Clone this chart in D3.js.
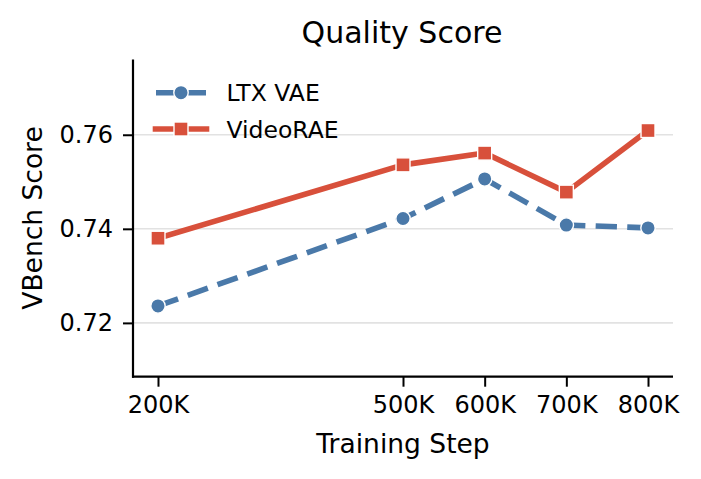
<!DOCTYPE html>
<html>
<head>
<meta charset="utf-8">
<script src="https://cdn.jsdelivr.net/npm/d3@7"></script>
<style>
  html, body { margin: 0; padding: 0; background: #fff; }
  svg { display: block; font-family: "DejaVu Sans", sans-serif; }
</style>
</head>
<body>
<svg id="chart" width="701" height="479"></svg>
<script>
// ---- data ----
const steps = [200, 500, 600, 700, 800];               // training step (K)
const stepLabels = ["200K", "500K", "600K", "700K", "800K"];
const ltxVae = [0.7236, 0.7422, 0.7506, 0.7408, 0.7402];
const videoRae = [0.7380, 0.7536, 0.7561, 0.7478, 0.7609];
const yTicks = [0.72, 0.74, 0.76];
const seriesNames = ["LTX VAE", "VideoRAE"];

(function () {
// ---- layout ----
const svg = d3.select("#chart");
const pL = 133, pR = 673, pT = 59.5, pB = 376.7;
const blue = "#4a79a9", red = "#d8503b";

const x = d3.scaleLinear().domain([169.4, 830.6]).range([pL, pR]);
const y = d3.scaleLinear().domain([0.70856, 0.776]).range([pB, pT]);

// grid
svg.append("g").selectAll("line").data(yTicks).join("line")
  .attr("x1", pL).attr("x2", pR)
  .attr("y1", d => y(d)).attr("y2", d => y(d))
  .attr("stroke", "#e2e2e2").attr("stroke-width", 1.6);

// axes
const yAxis = svg.append("g").attr("transform", `translate(${pL},0)`)
  .call(d3.axisLeft(y).tickValues(yTicks).tickFormat(d3.format(".2f")).tickSizeOuter(0).tickSize(10).tickPadding(10));
const xAxis = svg.append("g").attr("transform", `translate(0,${pB})`)
  .call(d3.axisBottom(x).tickValues(steps).tickFormat((d, i) => stepLabels[i]).tickSizeOuter(0).tickSize(10).tickPadding(9));
[yAxis, xAxis].forEach(a => {
  a.select(".domain").remove();
  a.selectAll(".tick line").attr("stroke", "#000").attr("stroke-width", 2);
  a.selectAll(".tick text").attr("fill", "#000").style("font-size", "24px").style("font-family", "DejaVu Sans, sans-serif");
});
// spines
svg.append("line").attr("x1", pL).attr("x2", pL).attr("y1", pT).attr("y2", pB + 1)
  .attr("stroke", "#000").attr("stroke-width", 2.2);
svg.append("line").attr("x1", pL - 1).attr("x2", pR).attr("y1", pB).attr("y2", pB)
  .attr("stroke", "#000").attr("stroke-width", 2.2);

// lines
const line = d3.line().x(d => x(d[0])).y(d => y(d[1]));
const blueData = steps.map((s, i) => [s, ltxVae[i]]);
const redData = steps.map((s, i) => [s, videoRae[i]]);

svg.append("path").datum(blueData).attr("d", line)
  .attr("fill", "none").attr("stroke", blue).attr("stroke-width", 5.6)
  .attr("stroke-dasharray", "21.3,10.3").attr("stroke-linejoin", "round");
svg.append("g").selectAll("circle").data(blueData).join("circle")
  .attr("cx", d => x(d[0])).attr("cy", d => y(d[1])).attr("r", 7.2)
  .attr("fill", blue).attr("stroke", "#fff").attr("stroke-width", 1.4);

svg.append("path").datum(redData).attr("d", line)
  .attr("fill", "none").attr("stroke", red).attr("stroke-width", 5.6)
  .attr("stroke-linecap", "square").attr("stroke-linejoin", "round");
svg.append("g").selectAll("rect").data(redData).join("rect")
  .attr("x", d => x(d[0]) - 7).attr("y", d => y(d[1]) - 7).attr("width", 14).attr("height", 14)
  .attr("fill", red).attr("stroke", "#fff").attr("stroke-width", 1.4);

// legend
const lg = svg.append("g");
lg.append("line").attr("x1", 156).attr("x2", 206).attr("y1", 92.7).attr("y2", 92.7)
  .attr("stroke", blue).attr("stroke-width", 5.6).attr("stroke-dasharray", "19,12,25");
lg.append("circle").attr("cx", 181).attr("cy", 92.7).attr("r", 7.2)
  .attr("fill", blue).attr("stroke", "#fff").attr("stroke-width", 1.4);
lg.append("text").attr("x", 226.5).attr("y", 101.2).text(seriesNames[0])
  .style("font-size", "23.5px").attr("fill", "#000");
lg.append("line").attr("x1", 155.5).attr("x2", 206.5).attr("y1", 129).attr("y2", 129)
  .attr("stroke", red).attr("stroke-width", 5.6).attr("stroke-linecap", "square");
lg.append("rect").attr("x", 174).attr("y", 122).attr("width", 14).attr("height", 14)
  .attr("fill", red).attr("stroke", "#fff").attr("stroke-width", 1.4);
lg.append("text").attr("x", 226.5).attr("y", 137.5).text(seriesNames[1])
  .style("font-size", "23.5px").attr("fill", "#000");

// labels
svg.append("text").attr("x", 403).attr("y", 453).attr("text-anchor", "middle")
  .style("font-size", "26.5px").text("Training Step");
svg.append("text").attr("transform", "translate(42,218) rotate(-90)").attr("text-anchor", "middle")
  .style("font-size", "26.5px").text("VBench Score");
svg.append("text").attr("x", 402).attr("y", 43).attr("text-anchor", "middle")
  .style("font-size", "30px").text("Quality Score");
})();
</script>
</body>
</html>
